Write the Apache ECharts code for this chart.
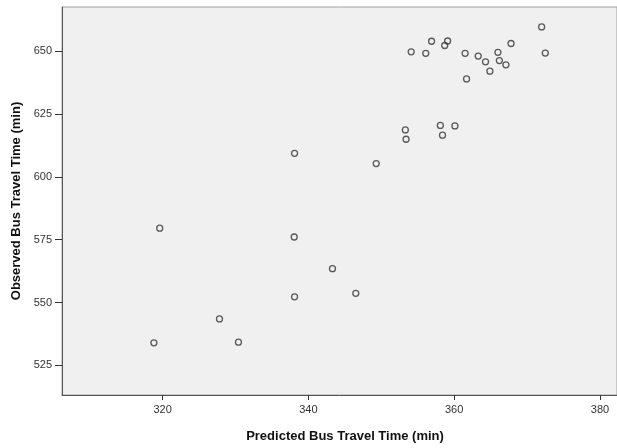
<!DOCTYPE html>
<html>
<head>
<meta charset="utf-8">
<script src="https://cdn.jsdelivr.net/npm/echarts@6/dist/echarts.min.js"></script>
<style>html,body{margin:0;padding:0;background:#fff;}#c{width:617px;height:448px;}</style>
</head>
<body>
<div id="c"></div>
<script>
var predicted = [354.1, 356.1, 356.9, 358.7, 359.1, 361.5, 361.7, 363.3, 364.3, 364.9, 366.0, 366.2, 367.1, 367.8, 372.0, 372.5,
  338.1, 353.3, 353.4, 349.3, 358.1, 360.1, 358.4,
  319.6, 338.05, 343.3, 346.5, 338.1, 327.8, 318.8, 330.4];
var observed = [649.8, 649.2, 654.0, 652.3, 654.1, 649.2, 639.0, 648.1, 645.8, 642.1, 649.6, 646.3, 644.6, 653.1, 659.7, 649.3,
  609.4, 618.7, 615.0, 605.3, 620.5, 620.3, 616.6,
  579.6, 576.1, 563.5, 553.7, 552.3, 543.5, 534.0, 534.25];
var xTicks = [320, 340, 360, 380];
var yTicks = [525, 550, 575, 600, 625, 650];

var pts = predicted.map(function (v, i) { return [v, observed[i]]; });
var chart = echarts.init(document.getElementById('c'), null, {renderer: 'canvas'});
chart.setOption({
  animation: false,
  backgroundColor: '#ffffff',
  grid: {left: 62, top: 7, right: -2, bottom: 44, show: true, backgroundColor: '#f0f0f0', borderColor: '#a0a0a0', borderWidth: 1},
  xAxis: {
    type: 'value', min: 306.19, max: 382.34,
    name: 'Predicted Bus Travel Time (min)', nameLocation: 'middle', nameGap: 35,
    nameTextStyle: {fontFamily: 'Liberation Sans', fontWeight: 'bold', fontSize: 13, color: '#111', padding: [0, 0, 0, 11]},
    axisLine: {show: true, lineStyle: {color: '#555', width: 1}},
    axisTick: {show: true, length: 5, lineStyle: {color: '#333'}, customValues: xTicks},
    axisLabel: {fontFamily: 'Liberation Sans', fontSize: 11, color: '#333', margin: 9, customValues: xTicks},
    splitLine: {show: false}
  },
  yAxis: {
    type: 'value', min: 513.22, max: 667.62,
    name: 'Observed Bus Travel Time (min)', nameLocation: 'middle', nameGap: 35,
    nameTextStyle: {fontFamily: 'Liberation Sans', fontWeight: 'bold', fontSize: 13, color: '#111'},
    axisLine: {show: true, lineStyle: {color: '#555', width: 1}},
    axisTick: {show: true, length: 7, lineStyle: {color: '#333'}, customValues: yTicks},
    axisLabel: {fontFamily: 'Liberation Sans', fontSize: 11, color: '#333', margin: 10, customValues: yTicks},
    splitLine: {show: false}
  },
  series: [{
    type: 'scatter',
    data: pts,
    symbol: 'circle',
    symbolSize: 6,
    itemStyle: {color: 'rgba(0,0,0,0)', borderColor: '#333', borderWidth: 1.3}
  }]
});
</script>
</body>
</html>
